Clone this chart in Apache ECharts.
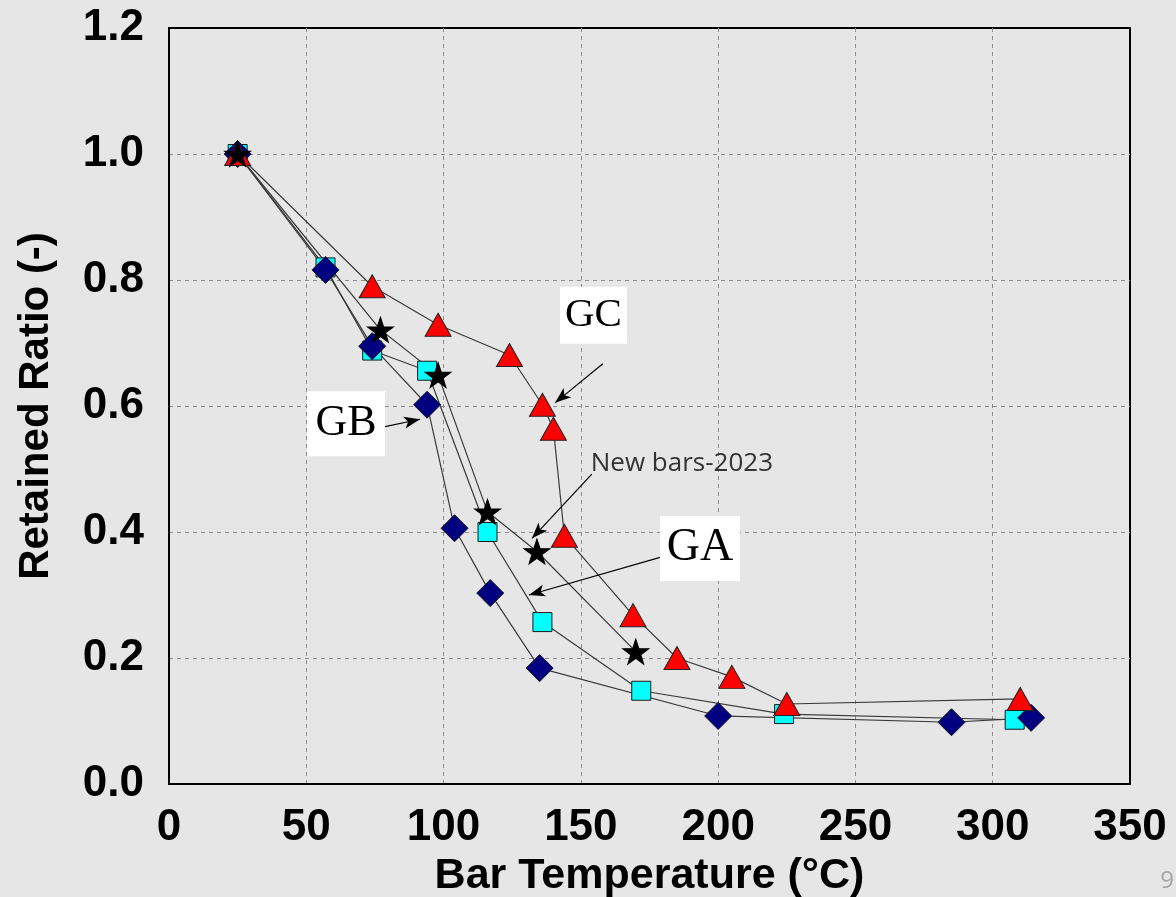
<!DOCTYPE html>
<html>
<head>
<meta charset="utf-8">
<script src="https://cdn.jsdelivr.net/npm/echarts@6/dist/echarts.min.js"></script>
<style>
  html, body { margin: 0; padding: 0; background: #e6e6e6; }
  #chart { width: 1176px; height: 897px; }
</style>
</head>
<body>
<div id="chart"></div>
<script>
// ---- Data ----
const squareX   = [25, 57, 74, 94, 116, 136, 172, 224, 308];
const squareY   = [1.0, 0.820, 0.688, 0.656, 0.400, 0.257, 0.148, 0.111, 0.102];

const diamondX  = [25, 57, 74, 94, 104, 117, 135, 200, 285, 314];
const diamondY  = [1.0, 0.816, 0.695, 0.602, 0.406, 0.303, 0.184, 0.108, 0.098, 0.105];

const triangleX = [25, 74, 98, 124, 136, 140, 144, 169, 185, 205, 225, 310];
const triangleY = [1.0, 0.790, 0.729, 0.681, 0.602, 0.564, 0.394, 0.268, 0.200, 0.170, 0.127, 0.135];

const starX     = [25, 77, 98, 116, 134, 170];
const starY     = [1.0, 0.721, 0.649, 0.432, 0.369, 0.210];

const xAxisTitle = 'Bar Temperature (°C)';
const yAxisTitle = 'Retained Ratio (-)';

// Annotations (data coordinates)
const boxLabels  = ['GC', 'GB', 'GA'];
const boxCoords  = [[154.6, 0.744], [64.5, 0.572], [193.4, 0.374]];
const noteText   = 'New bars-2023';
const noteCoord  = [186.8, 0.508];
const arrowFrom  = [[158.0, 0.667], [76.1, 0.565], [154.0, 0.492], [181.4, 0.363]];
const arrowTo    = [[140.6, 0.605], [91.4, 0.579], [132.2, 0.390], [131.1, 0.300]];

// ---- Build chart ----
const zip = (xs, ys) => xs.map((x, i) => [x, ys[i]]);
const STAR = 'path://M50,0 L61.8,35.1 L98.1,35.1 L68.8,56.7 L79.4,91 L50,70 L20.6,91 L31.2,56.7 L1.9,35.1 L38.2,35.1 Z';

const lineStyle = { color: '#3a3a3a', width: 1.2 };
function lineSeries(xs, ys) {
  return { type: 'line', data: zip(xs, ys), showSymbol: false, symbol: 'none',
           lineStyle: lineStyle, z: 2, silent: true, animation: false };
}
function markerSeries(xs, ys, symbol, size, color, border) {
  return { type: 'scatter', data: zip(xs, ys), symbol: symbol, symbolSize: size,
           itemStyle: { color: color, borderColor: border, borderWidth: 1, opacity: 1 },
           z: 3, animation: false };
}

const boxSizes = [[67, 57], [78, 65], [80, 65]];
const boxFontSizes = [41, 44, 46];
const gridLine = { show: true, showMinLine: false, showMaxLine: false,
                   lineStyle: { color: '#8c8c8c', type: [4, 4], width: 1 } };

const option = {
  backgroundColor: '#e6e6e6',
  animation: false,
  grid: { left: 169, top: 28, width: 961, height: 756, show: true, containLabel: false,
          outerBoundsMode: 'none',
          borderColor: '#000', borderWidth: 2, backgroundColor: 'transparent' },
  xAxis: {
    type: 'value', min: 0, max: 350, interval: 50,
    name: xAxisTitle, nameLocation: 'middle', nameGap: 68,
    nameTextStyle: { fontFamily: 'Liberation Sans', fontWeight: 'bold', fontSize: 43, color: '#000' },
    axisLine: { show: true, lineStyle: { color: '#000', width: 2 } },
    axisTick: { show: false },
    axisLabel: { fontFamily: 'Liberation Sans', fontWeight: 'bold', fontSize: 44, color: '#000', margin: 22 },
    splitLine: gridLine
  },
  yAxis: {
    type: 'value', min: 0, max: 1.2, interval: 0.2,
    name: yAxisTitle, nameLocation: 'middle', nameGap: 112,
    nameTextStyle: { fontFamily: 'Liberation Sans', fontWeight: 'bold', fontSize: 42, color: '#000' },
    axisLine: { show: true, lineStyle: { color: '#000', width: 2 } },
    axisTick: { show: false },
    axisLabel: { fontFamily: 'Liberation Sans', fontWeight: 'bold', fontSize: 44, color: '#000', margin: 25,
                 formatter: v => v.toFixed(1) },
    splitLine: gridLine
  },
  series: [
    lineSeries(squareX, squareY),
    lineSeries(diamondX, diamondY),
    lineSeries(triangleX, triangleY),
    lineSeries(starX, starY),
    markerSeries(squareX, squareY, 'rect', [19, 19], '#00ffff', '#1a1a1a'),
    markerSeries(diamondX, diamondY, 'diamond', [27, 27], '#000080', '#1a1a1a'),
    markerSeries(triangleX, triangleY, 'triangle', [26, 23], '#ff0000', '#222'),
    markerSeries(starX, starY, STAR, [26, 25], '#000', '#000'),
    {
      type: 'scatter', data: [], z: 5, silent: true, animation: false,
      markLine: {
        silent: true, animation: false,
        symbol: ['none', 'arrow'], symbolSize: [9, 16],
        lineStyle: { color: '#000', width: 1.2, type: 'solid' },
        label: { show: false },
        data: arrowFrom.map((f, i) => [{ coord: f }, { coord: arrowTo[i] }])
      },
      markPoint: {
        silent: true, animation: false,
        data: boxLabels.map((t, i) => ({
          coord: boxCoords[i], symbol: 'rect', symbolSize: boxSizes[i],
          itemStyle: { color: '#ffffff' },
          label: { show: true, position: 'inside', formatter: t,
                   fontFamily: 'Liberation Serif', color: '#000', fontSize: boxFontSizes[i] }
        })).concat([{
          coord: noteCoord, symbol: 'rect', symbolSize: 1,
          itemStyle: { color: 'transparent' },
          label: { show: true, position: 'inside', formatter: noteText,
                   fontFamily: 'Open Sans', fontSize: 26, color: '#333333' }
        }])
      }
    }
  ],
  graphic: [
    { type: 'text', right: 2, bottom: 4, style: { text: '9', fontFamily: 'Open Sans', fontSize: 24, fill: '#a6a6a6' } }
  ]
};

const chart = echarts.init(document.getElementById('chart'), null, { renderer: 'canvas' });
chart.setOption(option);
</script>
</body>
</html>
